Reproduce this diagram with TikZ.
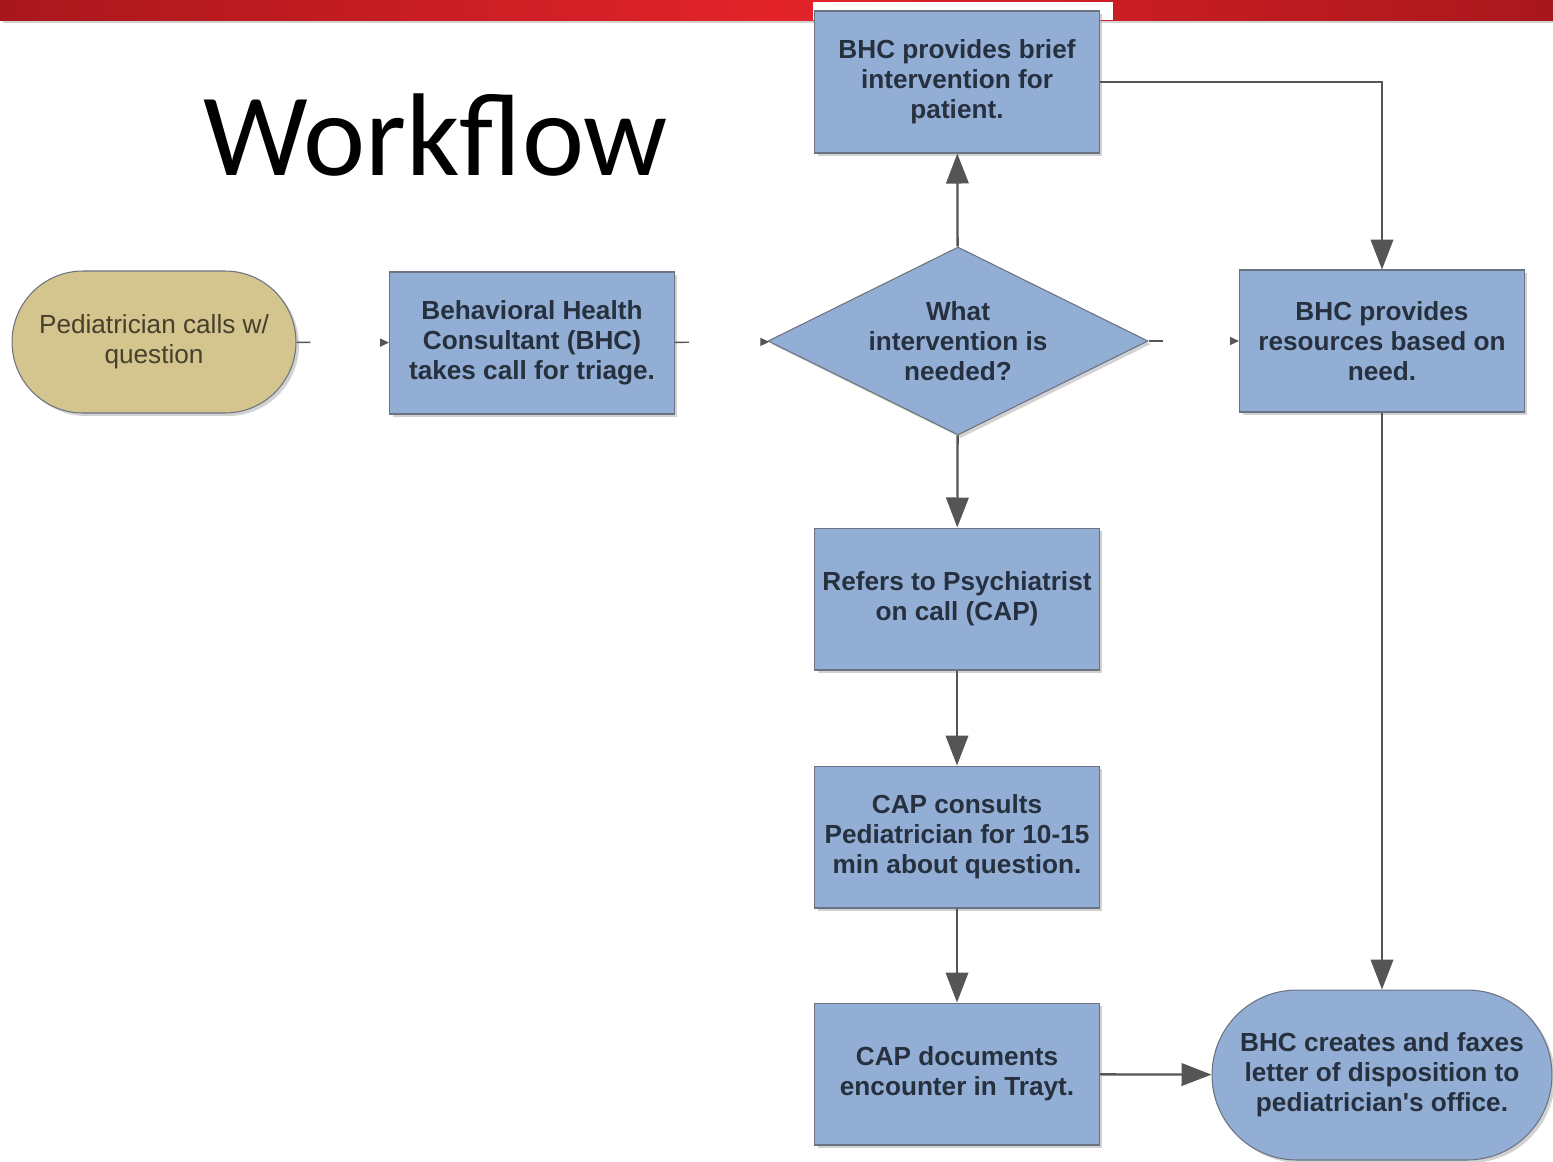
\documentclass[tikz,border=0pt]{standalone}
\usepackage{fontspec}
\setmainfont{Liberation Sans}
\newfontfamily\titlefont{Carlito}
\usetikzlibrary{shapes.geometric,arrows.meta,shadows}
\definecolor{boxblue}{HTML}{93AED4}
\definecolor{boxtan}{HTML}{D4C48E}
\definecolor{edgegray}{HTML}{6B7280}
\definecolor{linegray}{HTML}{555555}
\definecolor{textnavy}{HTML}{26303F}
\definecolor{textolive}{HTML}{46402C}
\definecolor{bardark}{HTML}{A8171C}
\definecolor{barbright}{HTML}{E3232A}
\begin{document}
\begin{tikzpicture}[x=0.02cm, y=-0.02cm,
    shade/.style={drop shadow={shadow xshift=0.06cm, shadow yshift=-0.06cm, fill=black!35}},
    stepbox/.style={draw=edgegray, line width=0.6pt, fill=boxblue, shade,
        minimum width=5.7cm, minimum height=2.84cm, inner sep=0pt, align=center,
        text=textnavy, font=\fontsize{14.9}{17.1}\selectfont\bfseries},
    flow/.style={draw=linegray, line width=1.3pt, -{Triangle[length=0.6cm, width=0.45cm]}},
    brokenflow/.style={draw=linegray, line width=0.8pt, dash pattern=on 0.28cm off 5cm,
        -{Triangle[length=0.18cm, width=0.16cm]}}]
    \useasboundingbox (0,0) rectangle (1553,1161);
    % top bar
    \shade[left color=bardark, right color=bardark, middle color=barbright] (0,0) rectangle (1553,20);
    \fill[white] (813,2) rectangle (1113,20);
    \node[font=\titlefont\fontsize{67}{67}\selectfont, anchor=base west] (title) at (197,175) {Workflow};
    % nodes
    \node[draw=edgegray, line width=0.6pt, fill=boxtan, shade, rounded corners=1.42cm,
        minimum width=5.68cm, minimum height=2.84cm, align=center, text=textolive,
        font=\fontsize{14.9}{17.1}\selectfont] (ped) at (154,342) {Pediatrician calls w/\\question};
    \node[stepbox] (triage) at (532,343) {Behavioral Health\\Consultant (BHC)\\takes call for triage.};
    \node[draw=edgegray, line width=0.6pt, fill=boxblue, shade, diamond, aspect=2.02,
        minimum width=7.6cm, minimum height=3.76cm, inner sep=0pt, align=center, text=textnavy,
        font=\fontsize{14.9}{17.1}\selectfont\bfseries] (what) at (958,341) {What\\intervention is\\needed?};
    \node[stepbox] (brief) at (957,82) {BHC provides brief\\intervention for\\patient.};
    \node[stepbox] (res) at (1382,341) {BHC provides\\resources based on\\need.};
    \node[stepbox] (refer) at (957,599) {Refers to Psychiatrist\\on call (CAP)};
    \node[stepbox] (consult) at (957,837) {CAP consults\\Pediatrician for 10-15\\min about question.};
    \node[stepbox] (docs) at (957,1074) {CAP documents\\encounter in Trayt.};
    \node[draw=edgegray, line width=0.6pt, fill=boxblue, shade, rounded corners=1.7cm,
        minimum width=6.8cm, minimum height=3.4cm, align=center, text=textnavy,
        font=\fontsize{14.9}{17.1}\selectfont\bfseries] (fax) at (1382,1075) {BHC creates and faxes\\letter of disposition to\\pediatrician\textquotesingle s office.};
    % connectors
    \draw[brokenflow] (ped) -- (triage);
    \draw[brokenflow] (triage) -- (what);
    \draw[brokenflow] (what) -- (res);
    \draw[flow] (what) -- (brief);
    \draw[flow] (brief.east) -| (res.north);
    \draw[flow] (what) -- (refer);
    \draw[flow] (refer) -- (consult);
    \draw[flow] (consult) -- (docs);
    \draw[flow] (res) -- (fax);
    \draw[flow] (docs) -- (fax);
\end{tikzpicture}
\end{document}
